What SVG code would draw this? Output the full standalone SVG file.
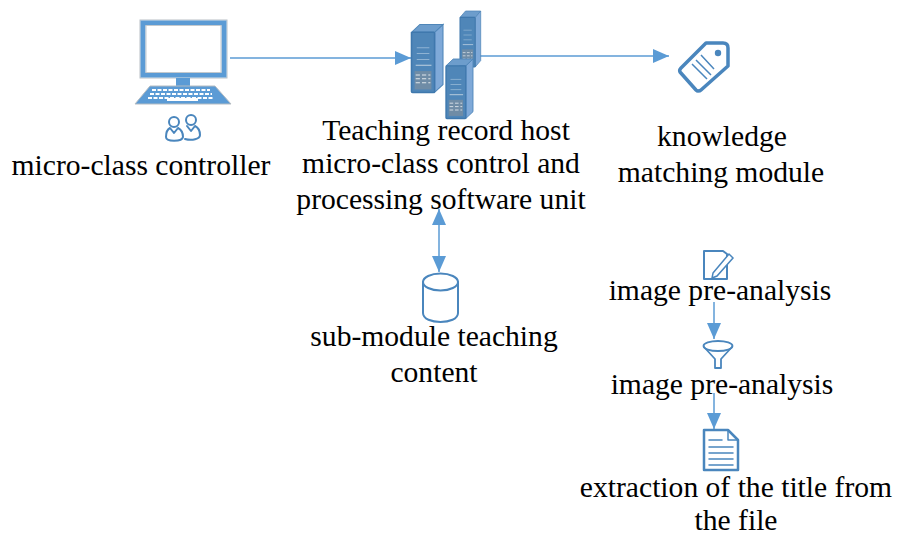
<svg xmlns="http://www.w3.org/2000/svg" width="897" height="536" viewBox="0 0 897 536">
<style>
text{font-family:"Liberation Serif","Times New Roman",serif;font-size:29.600px;fill:#000;text-anchor:middle}
.c{fill:none;stroke:#5b9bd5;stroke-width:1.500}
.o{fill:none;stroke:#4a86bd;stroke-width:2.500;stroke-linejoin:round;stroke-linecap:round}
.t{fill:#4f86b8;stroke:#3f78ad;stroke-width:1.500}
.s{fill:#7aa7d6;stroke:#4f86b8;stroke-width:1}
.p{fill:#6f8ca6}
</style>
<defs>
<marker id="a" markerUnits="userSpaceOnUse" markerWidth="18" markerHeight="16" refX="16" refY="7" orient="auto-start-reverse" viewBox="0 0 18 14"><path d="M0 0L16 7L0 14Z" fill="#5b9bd5"/></marker>
<g id="srv">
<path d="M22 8L30 0V62L22 70Z" fill="#7fa9d8" stroke="#4f86b8"/>
<path d="M0 8L8 0H30L22 8Z" fill="#6d9dcc" stroke="#4f86b8"/>
<rect class="t" x="0" y="8" width="22" height="62" rx="1"/>
<rect class="p" x="3" y="48" width="16" height="19"/>
<path d="M5 24H17M5 30H17M5 36H17" stroke="#8fb3d3" stroke-width="1"/>
<path d="M4 42H19" stroke="#c4d4e2" stroke-width="1"/>
<path d="M4 52H18M4 56H18M4 60H18" stroke="#dfe6ec" stroke-width="1" stroke-dasharray="4 2"/>
</g>
</defs>
<g id="connectors">
<path class="c" d="M230 58H411" marker-end="url(#a)"/>
<path class="c" d="M478 56H669" marker-end="url(#a)"/>
<path class="c" d="M439 209V272" marker-start="url(#a)" marker-end="url(#a)"/>
<path class="c" d="M714 302V339" marker-end="url(#a)"/>
<path class="c" d="M714 393V429" marker-end="url(#a)"/>
</g>
<g id="controller">
<rect x="140" y="20" width="87" height="58" fill="none" stroke="#b9c0c6" stroke-width="1"/>
<rect x="143" y="23" width="81" height="52" fill="#fff" stroke="#5b9bd5" stroke-width="5"/>
<rect x="146" y="25.500" width="75" height="47" fill="none" stroke="#c4c9cd" stroke-width="1"/>
<rect x="176" y="78" width="14" height="8" fill="#5b9bd5"/>
<path d="M150 86H215L231 104H135Z" fill="#5b9bd5" stroke="#b5bcc2" stroke-width="1"/>
<path d="M152 90H210M150 94H212M148 98H214" stroke="#fff" stroke-width="2" stroke-dasharray="4 1.500"/>
<rect x="167" y="98" width="31" height="3" fill="#fff"/>
<circle class="o" cx="174" cy="122" r="5" style="stroke-width:2"/>
<circle class="o" cx="191" cy="120" r="5" style="stroke-width:2"/>
<path class="o" style="stroke-width:2" d="M170 128C166 130 166 134 166 137C166 142 182 142 183 137C183 133 182 130 178 128L174 133Z"/>
<path class="o" style="stroke-width:2" d="M187 126L191 131L195 126C199 128 200 132 200 135C200 139 192 141 185 139"/>
<text x="141" y="175">micro-class controller</text>
</g>
<g id="host">
<g transform="translate(411.500 24.500) scale(1.050 .97)"><use href="#srv"/></g>
<g transform="translate(460 11) scale(.69 .8)"><use href="#srv"/></g>
<g transform="translate(446 59) scale(.9 .85)"><use href="#srv"/></g>
<text x="446" y="140">Teaching record host</text>
<text x="441" y="173">micro-class control and</text>
<text x="441" y="209">processing software unit</text>
</g>
<g id="knowledge">
<path class="o" style="stroke-width:3.500" d="M706 43H723Q728 43 728 48V66L701 90Q700 91 698 91Q697 91 696 90L680 72Q679 70 681 68Z"/>
<circle cx="718" cy="53" r="3.200" fill="#4a86bd"/>
<path d="M692 64L707 79M696 60L711 75M701 55L714 69" stroke="#4a86bd" stroke-width="1.500"/>
<text x="722" y="146">knowledge</text>
<text x="721" y="182">matching module</text>
</g>
<g id="submodule">
<path class="o" style="stroke-width:2" d="M423 282V313C423 325 458 325 458 313V282"/>
<ellipse class="o" style="stroke-width:2" cx="440.500" cy="282" rx="17.500" ry="8.500"/>
<text x="434" y="346">sub-module teaching</text>
<text x="434" y="382">content</text>
</g>
<g id="analysis1">
<path class="o" style="stroke-width:2" d="M704 251H723L727 254V279H704Z"/>
<path d="M713 273L729 254L733 258L717 276L712 278Z" fill="#fff" stroke="#4a86bd" stroke-width="1.500"/>
<text x="720" y="300">image pre-analysis</text>
</g>
<g id="analysis2">
<ellipse class="o" style="stroke-width:1.800" cx="718" cy="346" rx="14.500" ry="5"/>
<path class="o" style="stroke-width:1.800" d="M704 347L715 359V368H721V359L732 347"/>
<text x="722" y="394">image pre-analysis</text>
</g>
<g id="extraction">
<path class="o" d="M704 430H728L738 440V470H704Z"/>
<path class="o" style="stroke-width:1.500" d="M728 430V440H738M709 440H722M709 447H733M709 453H733M709 459H733M709 465H733"/>
<text x="736" y="497">extraction of the title from</text>
<text x="736" y="529.500">the file</text>
</g>
</svg>
